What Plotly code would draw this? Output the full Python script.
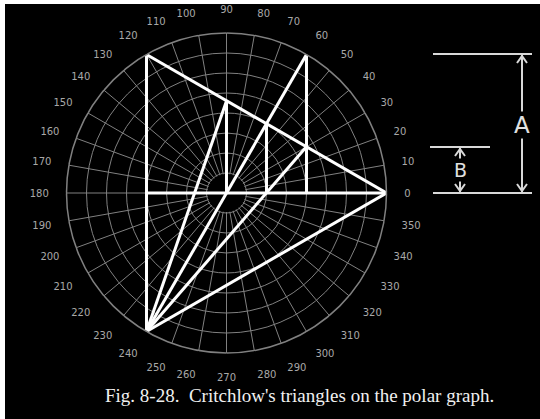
import plotly.graph_objects as go

# polar grid: rings and angle labels
RING_RADII = [20, 40, 60, 80, 100, 120, 140, 160]
ANGLE_TICKS = [0, 10, 20, 30, 40, 50, 60, 70, 80, 90, 100, 110, 120, 130, 140, 150, 160, 170,
               180, 190, 200, 210, 220, 230, 240, 250, 260, 270, 280, 290, 300, 310, 320, 330, 340, 350]
ANGLE_LABELS = [str(a) for a in ANGLE_TICKS]
HOLE_R = 19   # empty disc in the middle of the graph paper

# Critchlow's triangles: each segment as (r, theta) pairs
SEG_R = [
    [160, 160],   # left vertical 120 -> 240
    [80, 160],    # horizontal 180 -> 0
    [160, 160],   # 120 -> 0
    [160, 160],   # 240 -> 0
    [160, 160],   # diameter 240 -> 60
    [160, 80],    # right vertical 60 -> foot
    [160, 92],    # 240 -> inner apex
    [92, 0],      # inner vertical
    [160, 92],    # 240 -> point on right vertical
    [80, 40],     # middle vertical
]
SEG_T = [
    [120, 240],
    [180, 0],
    [120, 0],
    [240, 0],
    [240, 60],
    [60, 0],
    [240, 90],
    [90, 0],
    [240, 30],
    [60, 0],
]

# dimension marks A and B (same units as the polar radius)
DIM_X_A = 295.5
DIM_X_B = 233.5
A_TOP = 139
B_TOP = 46
A_LINE_X = [206.5, 305.5]
B_LINE_X = [203.5, 263.5]

CAPTION = "Fig. 8-28.  Critchlow's triangles on the polar graph."

# the page keeps a thin white strip on the left and top, like the scan
OX, OY = 5, 4
W, H = 540 - OX, 419 - OY
CX, CY, RPX = 226.5 - OX, 193 - OY, 160   # polar centre and radius in pixels

GRID = "#808080"
LINE = "#ffffff"
DIM = "#d8d8d8"

fig = go.Figure()

# black disc hiding the spokes near the pole
fig.add_trace(go.Scatterpolar(
    r=[HOLE_R] * (len(ANGLE_TICKS) + 1), theta=ANGLE_TICKS + [ANGLE_TICKS[0]],
    mode="lines", fill="toself", fillcolor="black", line=dict(width=0, color="black"),
    showlegend=False, hoverinfo="skip",
))

r_all, t_all = [], []
for rs, ts in zip(SEG_R, SEG_T):
    r_all += rs + [None]
    t_all += ts + [None]
fig.add_trace(go.Scatterpolar(
    r=r_all, theta=t_all, mode="lines",
    line=dict(color=LINE, width=3), connectgaps=False,
    showlegend=False, hoverinfo="skip",
))

# dimension lines on an invisible overlay
xs = [A_LINE_X[0], A_LINE_X[1], None, A_LINE_X[0], A_LINE_X[1], None, B_LINE_X[0], B_LINE_X[1], None]
ys = [A_TOP, A_TOP, None, 0, 0, None, B_TOP, B_TOP, None]
fig.add_trace(go.Scatter(x=xs, y=ys, mode="lines", line=dict(color=DIM, width=2),
                         showlegend=False, hoverinfo="skip"))

arr_x, arr_y = [], []
for xc, top in ((DIM_X_A, A_TOP), (DIM_X_B, B_TOP)):
    arr_x += [xc, xc, None]
    arr_y += [top - 1, 1, None]
    # chevrons
    arr_x += [xc - 5, xc, xc + 5, None, xc - 5, xc, xc + 5, None]
    arr_y += [top - 9, top - 2, top - 9, None, 9, 2, 9, None]
fig.add_trace(go.Scatter(x=arr_x, y=arr_y, mode="lines", line=dict(color=DIM, width=2),
                         showlegend=False, hoverinfo="skip"))

fig.add_annotation(x=DIM_X_A, y=A_TOP * 0.49, text="A", showarrow=False,
                   font=dict(family="DejaVu Sans", size=23, color="#e0e0e0"),
                   bgcolor="black", xref="x", yref="y", borderpad=0)
fig.add_annotation(x=DIM_X_B, y=B_TOP * 0.5, text="B", showarrow=False,
                   font=dict(family="DejaVu Sans", size=19, color="#e0e0e0"),
                   bgcolor="black", xref="x", yref="y", borderpad=0)

fig.add_annotation(x=(299 - OX) / W, y=1 - (395 - OY) / H, xref="paper", yref="paper",
                   xanchor="center", yanchor="middle",
                   text=CAPTION, showarrow=False,
                   font=dict(family="Liberation Serif", size=19, color="#f0f0f0"))

fig.update_layout(
    width=W, height=H,
    margin=dict(l=0, r=0, t=0, b=0),
    paper_bgcolor="black",
    plot_bgcolor="rgba(0,0,0,0)",
    polar=dict(
        domain=dict(x=[(CX - RPX) / W, (CX + RPX) / W],
                    y=[(H - CY - RPX) / H, (H - CY + RPX) / H]),
        bgcolor="black",
        radialaxis=dict(range=[0, 160], tickvals=RING_RADII, showticklabels=False,
                        ticks="", showline=False, gridcolor=GRID, gridwidth=1.3),
        angularaxis=dict(rotation=0, direction="counterclockwise",
                         tickmode="array", tickvals=ANGLE_TICKS, ticktext=ANGLE_LABELS,
                         ticks="outside", ticklen=15, tickcolor="black",
                         tickfont=dict(family="DejaVu Sans", size=10, color="#a8a8a8"),
                         showline=True, linecolor=GRID, linewidth=1.5,
                         gridcolor=GRID, gridwidth=1.3),
    ),
    xaxis=dict(domain=[0, 1], range=[-CX, W - CX], visible=False, fixedrange=True),
    yaxis=dict(domain=[0, 1], range=[-(H - CY), CY], visible=False, fixedrange=True),
)

fig.write_html("out.html", post_script=f"document.body.style.margin='{OY}px 0 0 {OX}px';")
